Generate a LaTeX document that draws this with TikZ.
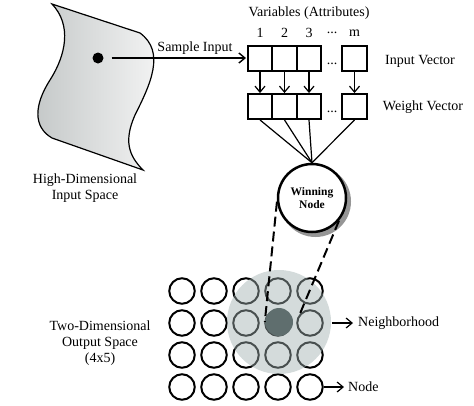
\documentclass[tikz,border=0pt]{standalone}
\usepackage{fontspec}
\setmainfont{Liberation Serif}
\usetikzlibrary{arrows.meta}
\definecolor{shapeL}{RGB}{196,200,200}
\definecolor{shapeR}{RGB}{246,246,246}
\definecolor{hoodc}{RGB}{160,176,176}
\definecolor{winc}{RGB}{95,110,110}
\definecolor{shadowc}{RGB}{150,150,150}
\begin{document}
\begin{tikzpicture}[x=1pt,y=-1pt,
  lbl/.style={font=\fontsize{14}{16}\selectfont, inner sep=0pt},
  vbox/.style={draw, line width=2.4pt, minimum size=24.5pt, inner sep=0pt},
  gnode/.style={draw, circle, line width=2pt, minimum size=25.5pt, inner sep=0pt},
  tip/.style={-{Straight Barb[length=6pt,width=10pt]}},
  conn/.style={line width=1.2pt}
]
\useasboundingbox (0,0) rectangle (474,405);

% input space
\shade[left color=shapeL, right color=shapeR, draw=black, line width=1.2pt]
  (52,4) .. controls (72,25) and (66,55) .. (50,80)
  .. controls (34,105) and (33,127) .. (52,138)
  -- (143,170)
  .. controls (128,155) and (124,140) .. (135,115)
  .. controls (150,85) and (166,52) .. (140,33) -- cycle;
\node[circle, fill=black, minimum size=11pt, inner sep=0pt] (dot) at (98,58) {};
\coordinate (inarrow) at (246,58);
\draw[tip, line width=1.4pt, shorten <=8pt] (dot) -- (inarrow);
\node[lbl] (sample) at (195,48) {Sample Input};
\node[lbl, align=center] (hdim) at (85,188) {High-Dimensional\\Input Space};

% variables
\node[lbl] (vars) at (309,13) {Variables (Attributes)};
\node[lbl] (n1) at (260,33) {1};
\node[lbl] (n2) at (284.5,33) {2};
\node[lbl] (n3) at (309,33) {3};
\node[lbl] (ndots) at (332,33) {...};
\node[lbl] (nm) at (354.5,33) {m};

\node[vbox] (in1) at (260,58.5) {};
\node[vbox] (in2) at (284.5,58.5) {};
\node[vbox] (in3) at (309,58.5) {};
\node[vbox] (inm) at (354.5,58.5) {};
\node[lbl] (indots) at (332,64) {...};
\node[lbl] (invec) at (420,61) {Input Vector};

\node[vbox] (w1) at (260,106.5) {};
\node[vbox] (w2) at (284.5,106.5) {};
\node[vbox] (w3) at (309,106.5) {};
\node[vbox] (wm) at (354.5,106.5) {};
\node[lbl] (wdots) at (332,112) {...};
\node[lbl] (wvec) at (423,107) {Weight Vector};

\foreach \i in {1,2,3,m} \draw[tip, conn] (in\i) -- (w\i);

% winning node
\fill[shadowc] (315.5,201.5) circle (35.5pt);
\node[circle, draw, fill=white, line width=2.5pt, minimum size=68pt, inner sep=0pt,
      align=center, font=\fontsize{11.5}{13}\selectfont\bfseries] (win) at (312,198) {Winning\\Node};
\foreach \i in {1,2,3,m} \draw[conn] (w\i.south) -- (win.north);

% grid
\foreach \c/\x in {1/182,2/214,3/246,4/278,5/310}
  \foreach \r/\y in {1/291,2/323,3/355,4/387}
    \node[gnode] (g\r\c) at (\x,\y) {};
\fill[hoodc, opacity=0.45] (279,322) circle (52pt);
\node[circle, fill=winc, minimum size=28pt, inner sep=0pt] (dark) at (279,322) {};
\coordinate (dr) at (299,316);
\draw[dashed, dash pattern=on 10pt off 5pt, line width=2pt] (win.186) -- (dark.west);
\draw[dashed, dash pattern=on 10pt off 5pt, line width=2pt] (win.-40) -- (dr);

\node[lbl, align=center] (tdim) at (100,343) {Two-Dimensional\\Output Space\\(4x5)};
\node[lbl, anchor=west] (hood) at (358,323) {Neighborhood};
\draw[tip, line width=1.2pt, shorten <=8pt, shorten >=5pt] (g25.east) -- (hood.west);
\node[lbl, anchor=west] (nodelbl) at (348,387) {Node};
\draw[tip, line width=1.2pt, shorten >=4pt] (g45.east) -- (nodelbl.west);
\end{tikzpicture}
\end{document}
